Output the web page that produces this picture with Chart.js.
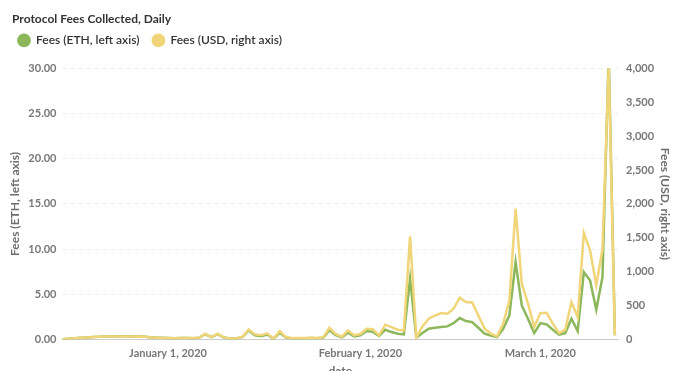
<!DOCTYPE html>
<html><head><meta charset="utf-8">
<script src="https://cdn.jsdelivr.net/npm/chart.js@4.4.1/dist/chart.umd.min.js"></script>
<style>
html,body{margin:0;padding:0;background:#fff;overflow:hidden;}
#wrap{position:relative;width:680px;height:378px;}
</style></head><body>
<div id="wrap"><canvas id="c" width="680" height="378"></canvas></div>
<script>
const dates = [
'2019-12-15','2019-12-16','2019-12-17','2019-12-18','2019-12-19','2019-12-20','2019-12-21','2019-12-22','2019-12-23','2019-12-24',
'2019-12-25','2019-12-26','2019-12-27','2019-12-28','2019-12-29','2019-12-30','2019-12-31',
'2020-01-01','2020-01-02','2020-01-03','2020-01-04','2020-01-05','2020-01-06','2020-01-07','2020-01-08','2020-01-09','2020-01-10',
'2020-01-11','2020-01-12','2020-01-13','2020-01-14','2020-01-15','2020-01-16','2020-01-17','2020-01-18','2020-01-19','2020-01-20',
'2020-01-21','2020-01-22','2020-01-23','2020-01-24','2020-01-25','2020-01-26','2020-01-27','2020-01-28','2020-01-29','2020-01-30','2020-01-31',
'2020-02-01','2020-02-02','2020-02-03','2020-02-04','2020-02-05','2020-02-06','2020-02-07','2020-02-08','2020-02-09','2020-02-10',
'2020-02-11','2020-02-12','2020-02-13','2020-02-14','2020-02-15','2020-02-16','2020-02-17','2020-02-18','2020-02-19','2020-02-20',
'2020-02-21','2020-02-22','2020-02-23','2020-02-24','2020-02-25','2020-02-26','2020-02-27','2020-02-28','2020-02-29',
'2020-03-01','2020-03-02','2020-03-03','2020-03-04','2020-03-05','2020-03-06','2020-03-07','2020-03-08','2020-03-09','2020-03-10',
'2020-03-11','2020-03-12','2020-03-13'
];
const feesEth = [
0.03,0.08,0.13,0.18,0.22,0.26,0.29,0.32,0.33,0.34,
0.34,0.32,0.31,0.33,0.25,0.20,0.17,
0.15,0.14,0.16,0.16,0.14,0.18,0.57,0.25,0.59,0.21,
0.10,0.10,0.27,0.99,0.45,0.36,0.55,0.07,0.73,0.20,
0.11,0.12,0.11,0.16,0.12,0.18,1.03,0.47,0.23,0.74,0.33,
0.44,0.92,0.85,0.37,1.07,0.81,0.63,0.55,6.72,0.19,
0.70,1.18,1.28,1.36,1.44,1.80,2.36,2.03,1.92,1.29,
0.63,0.44,0.26,1.18,2.66,8.56,3.76,2.29,0.70,
1.80,1.66,1.07,0.52,0.70,2.29,0.92,7.45,6.53,3.30,
6.90,31.5,0.45
];
const feesUsd = [
4,10,17,24,29,34,38,42,43,44,
44,42,40,44,32,26,22,
20,18,21,22,20,26,80,35,84,30,
15,14,40,147,74,60,90,12,122,34,
19,20,19,26,20,30,172,80,40,133,60,
80,158,150,59,217,182,143,133,1520,25,
192,305,350,388,379,453,615,551,546,354,
160,84,44,232,576,1929,822,527,182,
388,394,232,93,143,551,330,1569,1314,800,
1330,4044,59
];
const xTickDates = ['2020-01-01','2020-02-01','2020-03-01'];
const xTickLabels = ['January 1, 2020','February 1, 2020','March 1, 2020'];
const leftMax = 30, leftStep = 5;
const rightMax = 4000, rightStep = 500;

const dayNum = s => { const [y,m,d] = s.split('-').map(Number); return (Date.UTC(y,m-1,d) - Date.UTC(2020,0,1)) / 86400000; };
const ethPts = dates.map((d,i) => ({x: dayNum(d), y: feesEth[i]}));
const usdPts = dates.map((d,i) => ({x: dayNum(d), y: feesUsd[i]}));

const GREEN = '#8db75b', YELLOW = '#f0d579';
const tickFont = {family: 'Lato', size: 11, weight: 'bold'};
const titleFont = {family: 'Lato', size: 12, weight: 'bold'};

const shiftLegend = {
  id: 'shiftLegend',
  afterLayout(chart) { if (chart.legend) { chart.legend.left -= 7; chart.legend.top -= 12; } }
};

new Chart(document.getElementById('c'), {
  type: 'line',
  data: {
    datasets: [
      {label: 'Fees (ETH, left axis)', data: ethPts, yAxisID: 'yL', borderColor: GREEN, backgroundColor: GREEN,
       borderWidth: 2.5, pointRadius: 0, tension: 0, order: 1},
      {label: 'Fees (USD, right axis)', data: usdPts, yAxisID: 'yR', borderColor: YELLOW, backgroundColor: YELLOW,
       borderWidth: 2.5, pointRadius: 0, tension: 0, order: 0}
    ]
  },
  options: {
    responsive: false,
    animation: false,
    devicePixelRatio: 1,
    layout: {padding: {left: 12, right: 0, top: 9, bottom: 0}},
    plugins: {
      title: {display: true, text: 'Protocol Fees Collected, Daily', align: 'start', color: '#333',
              font: {family: 'Lato', size: 12, weight: 'bold'}, padding: {top: 3, bottom: 7}},
      legend: {display: true, align: 'start',
               labels: {usePointStyle: true, pointStyle: 'circle', boxWidth: 12, boxHeight: 8, padding: 13,
                        color: '#333', font: {family: 'Lato', size: 12, weight: '600'},
                        sort: (a, b) => a.datasetIndex - b.datasetIndex}},
      tooltip: {enabled: false}
    },
    scales: {
      x: {type: 'linear', min: dayNum(dates[0]), max: dayNum(dates[dates.length-1]) + 0.5,
          afterBuildTicks: s => { s.ticks = xTickDates.map(d => ({value: dayNum(d)})); },
          ticks: {autoSkip: false, maxRotation: 0, color: '#777', font: tickFont, padding: -1,
                  callback: v => { const i = xTickDates.findIndex(d => dayNum(d) === v); return i >= 0 ? xTickLabels[i] : ''; }},
          grid: {display: false},
          border: {display: true, color: '#cccccc', width: 1},
          title: {display: true, text: 'date', color: '#6e6e6e', font: titleFont, padding: {top: 5, bottom: 0}}},
      yL: {position: 'left', min: 0, max: leftMax,
           ticks: {stepSize: leftStep, color: '#777', font: tickFont, padding: 6, callback: v => v.toFixed(2)},
           grid: {color: 'rgba(0,0,0,0.07)', drawTicks: false},
           border: {display: false, dash: [4, 4]},
           title: {display: true, text: 'Fees (ETH, left axis)', color: '#6e6e6e', font: titleFont, padding: {top: -4, bottom: 2}},
           afterFit: s => { s.width = 50.5; }},
      yR: {position: 'right', min: 0, max: rightMax,
           ticks: {stepSize: rightStep, color: '#777', font: tickFont, padding: 8,
                   callback: v => v.toLocaleString('en-US')},
           grid: {drawOnChartArea: false, drawTicks: false},
           border: {display: false},
           title: {display: true, text: 'Fees (USD, right axis)', color: '#6e6e6e', font: titleFont, padding: {top: 8, bottom: 0}},
           afterFit: s => { s.width = 62; }}
    }
  },
  plugins: [shiftLegend]
});
</script>
</body></html>
